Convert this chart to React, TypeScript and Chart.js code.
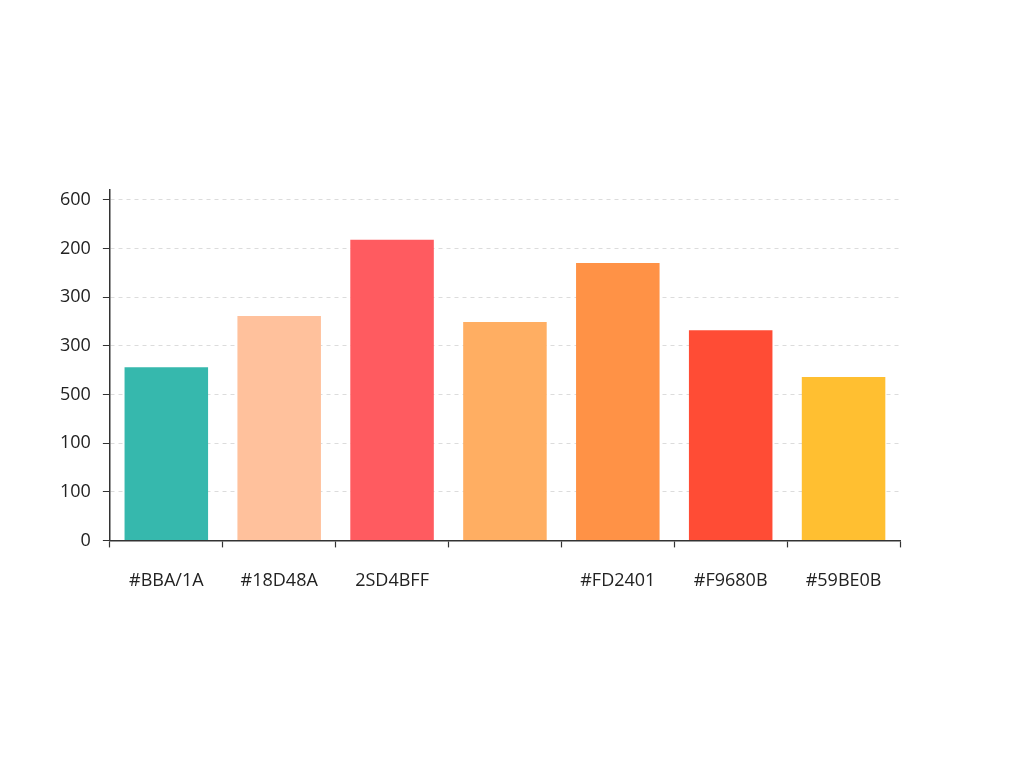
import { useEffect, useRef } from 'react';
import { Chart, registerables } from 'chart.js';

Chart.register(...registerables);

// category labels as printed under the bars (one is blank in the source)
const categories = ['#BBA/1A', '#18D48A', '2SD4BFF', '', '#FD2401', '#F9680B', '#59BE0B'];
// bar heights in tick steps (0 = bottom tick, 7 = top tick)
const values = [3.56, 4.61, 6.18, 4.49, 5.70, 4.32, 3.36];
const barColors = ['#36B8AD', '#FFC19C', '#FF5B60', '#FFAE62', '#FF9246', '#FF4C35', '#FFBF31'];
// y tick labels, bottom to top, as printed
const yTickLabels = ['0', '100', '100', '500', '300', '300', '200', '600'];

export default function App() {
  const canvasRef = useRef<HTMLCanvasElement>(null);

  useEffect(() => {
    if (!canvasRef.current) return;
    const chart = new Chart(canvasRef.current, {
      type: 'bar',
      data: {
        labels: categories,
        datasets: [{
          data: values,
          backgroundColor: barColors,
          borderWidth: 0,
          barPercentage: 0.74,
          categoryPercentage: 1,
        }],
      },
      options: {
        responsive: false,
        animation: false,
        layout: { padding: { left: 48, right: 124, top: 190, bottom: 153 } },
        plugins: { legend: { display: false }, tooltip: { enabled: false } },
        scales: {
          x: {
            grid: { display: true, drawOnChartArea: false, drawTicks: true, tickLength: 7, offset: true, color: '#333', tickWidth: 1.2 },
            border: { color: '#333', width: 1.5 },
            ticks: { color: '#222', font: { family: 'Open Sans', size: 18 }, padding: 23, maxRotation: 0, autoSkip: false },
          },
          y: {
            min: 0,
            max: 7.2,
            // one tick per printed label
            afterBuildTicks: axis => { axis.ticks = yTickLabels.map((_, i) => ({ value: i })); },
            ticks: {
              color: '#222',
              font: { family: 'Open Sans', size: 18 },
              padding: 12,
              callback: v => yTickLabels[v as number] ?? '',
            },
            grid: { color: '#dcdcdc', tickColor: '#333', tickLength: 7, lineWidth: 1 },
            border: { color: '#333', width: 1.5, dash: [4, 4] },
          },
        },
      },
    });
    return () => chart.destroy();
  }, []);

  return (
    <div style={{ position: 'fixed', left: 0, top: 0, width: 1024, height: 768, background: '#fff' }}>
      <canvas ref={canvasRef} width={1024} height={768} />
    </div>
  );
}
